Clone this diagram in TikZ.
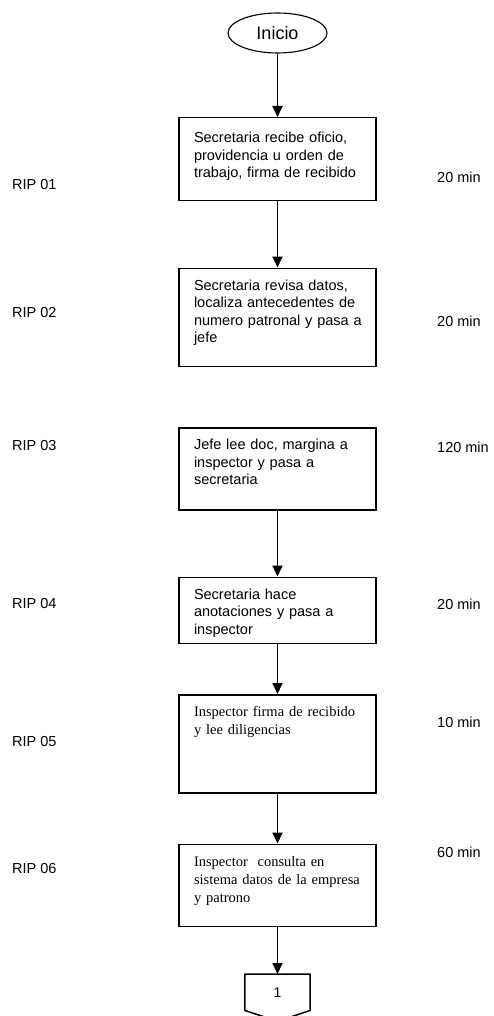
\documentclass[tikz,border=0pt]{standalone}
\usepackage{fontspec}
\setmainfont{Liberation Serif}
\newfontfamily\arialfont{Liberation Sans}
\usetikzlibrary{positioning}
\usetikzlibrary{arrows.meta}
\usetikzlibrary{shapes.geometric}
\usetikzlibrary{calc}

\begin{document}
\begin{tikzpicture}[
        x=1pt, y=-1pt,
        >={Triangle[width=10pt,length=11pt]},
        startnode/.style={ellipse, draw=black, line width=1.1pt, minimum width=99pt, minimum height=40pt, font=\arialfont\fontsize{18}{21}\selectfont},
        procnode/.style={rectangle, draw=black, line width=1.5pt, anchor=north, text width=167pt, align=left, inner xsep=15pt, inner ysep=0pt, text height=22pt, font=\arialfont\fontsize{14.5}{17.5}\selectfont},
        serifnode/.style={procnode, font=\rmfamily\fontsize{14.5}{18}\selectfont},
        ripnode/.style={anchor=west, inner sep=0pt, font=\arialfont\fontsize{14.5}{17.5}\selectfont},
        timenode/.style={ripnode}
    ]
        \useasboundingbox (0,0) rectangle (493,1016);

        \node [startnode] (Start) at (277.5,33) {Inicio};
        \node [procnode, text height=25pt, text depth=58pt] (Step1) at (277.5,117) {Secretaria recibe oficio,\\ providencia u orden de\\ trabajo, firma de recibido};
        \node [procnode, text depth=76pt] (Step2) [below=66pt of Step1] {Secretaria revisa datos,\\ localiza antecedentes de\\ \mbox{numero patronal y pasa a}\\ jefe};
        \node [procnode, text depth=60pt] (Step3) [below=60pt of Step2] {Jefe lee doc, margina a\\ inspector y pasa a\\ secretaria};
        \node [procnode, text depth=44pt] (Step4) [below=66pt of Step3] {Secretaria hace\\ anotaciones y pasa a\\ inspector};
        \node [serifnode, text depth=76pt] (Step5) [below=50pt of Step4] {Inspector firma de recibido\\ y lee diligencias};
        \node [serifnode, text depth=60pt] (Step6) [below=50pt of Step5] {Inspector\ \ consulta en\\ \mbox{sistema datos de la empresa}\\ y patrono};
        \node [minimum width=65pt, minimum height=36pt, inner sep=0pt, font=\arialfont\fontsize{14}{17}\selectfont] (Link1) [below=47pt of Step6] {1};
        \draw [line width=1.5pt, line join=round] (Link1.north west) -- (Link1.north east) -- (Link1.south east) -- ($(Link1.south)+(0,11)$) -- (Link1.south west) -- cycle;

        \node [ripnode] (Rip1) at (12,185) {RIP 01};
        \node [ripnode] (Rip2) at (12,313) {RIP 02};
        \node [ripnode] (Rip3) at (12,446) {RIP 03};
        \node [ripnode] (Rip4) at (12,604) {RIP 04};
        \node [ripnode] (Rip5) at (12,742) {RIP 05};
        \node [ripnode] (Rip6) at (12,868) {RIP 06};

        \node [timenode] (Time1) at (437,177) {20 min};
        \node [timenode] (Time2) at (437,321) {20 min};
        \node [timenode] (Time3) at (437,447) {120 min};
        \node [timenode] (Time4) at (437,604) {20 min};
        \node [timenode] (Time5) at (437,722) {10 min};
        \node [timenode] (Time6) at (437,852) {60 min};

        \path[->,line width=1.8pt] (Start) edge (Step1);
        \path[->,line width=1.8pt] (Step1) edge (Step2);
        \path[->,line width=1.8pt] (Step3) edge (Step4);
        \path[->,line width=1.8pt] (Step4) edge (Step5);
        \path[->,line width=1.8pt] (Step5) edge (Step6);
        \path[->,line width=1.8pt] (Step6) edge (Link1);

    \end{tikzpicture}
\end{document}
